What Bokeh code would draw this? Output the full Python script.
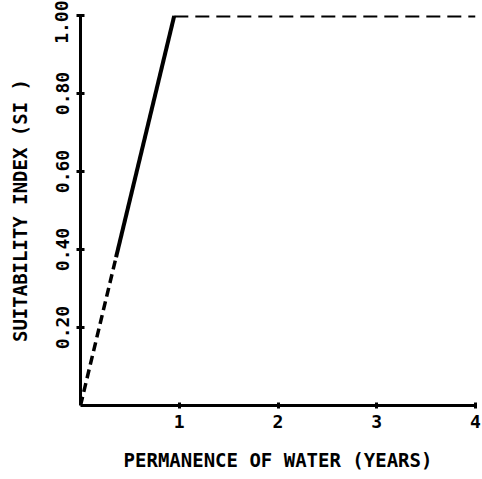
from bokeh.plotting import figure
from bokeh.models import FixedTicker, Range1d
from bokeh.embed import file_html
from bokeh.resources import INLINE

# data
rise_dashed_x = [0.0, 0.36]
rise_dashed_y = [0.0, 0.38]
rise_solid_x = [0.36, 0.95]
rise_solid_y = [0.38, 1.0]
plateau_x = [0.95, 4.0]
plateau_y = [1.0, 1.0]

x_ticks = [1, 2, 3, 4]
y_ticks = [0.2, 0.4, 0.6, 0.8, 1.0]
y_tick_labels = {0.2: "0.20", 0.4: "0.40", 0.6: "0.60", 0.8: "0.80", 1.0: "1.00"}

FONT = "DejaVu Sans Mono"

p = figure(width=482, height=479, output_backend="svg", toolbar_location=None,
           x_range=Range1d(0, 4), y_range=Range1d(0, 1.0),
           min_border_left=80, min_border_right=7, min_border_top=15, min_border_bottom=74)
p.frame_width = 395
p.frame_height = 390
p.outline_line_color = None
p.grid.visible = False
p.background_fill_color = "white"
p.border_fill_color = "white"

p.line(rise_dashed_x, rise_dashed_y, line_width=3.5, color="black", line_dash="9 5")
p.line(rise_solid_x, rise_solid_y, line_width=4, color="black")
p.line(plateau_x, plateau_y, line_width=4, color="black", line_dash="14 7")

xa = p.xaxis[0]
xa.ticker = FixedTicker(ticks=x_ticks)
xa.minor_tick_line_color = None
xa.axis_line_width = 3
xa.major_tick_line_width = 3
xa.major_tick_out = 3
xa.major_tick_in = 3
xa.major_label_standoff = 6
xa.major_label_text_font = FONT
xa.major_label_text_font_style = "bold"
xa.major_label_text_font_size = "18px"
xa.major_label_text_color = "black"
xa.axis_label = "PERMANENCE OF WATER (YEARS)"
xa.axis_label_text_font = FONT
xa.axis_label_text_font_style = "bold"
xa.axis_label_text_font_size = "19px"
xa.axis_label_text_color = "black"
xa.axis_label_standoff = 18

ya = p.yaxis[0]
ya.ticker = FixedTicker(ticks=y_ticks)
ya.major_label_overrides = y_tick_labels
ya.major_label_orientation = "vertical"
ya.minor_tick_line_color = None
ya.axis_line_width = 3
ya.major_tick_line_width = 3
ya.major_tick_out = 4
ya.major_tick_in = 4
ya.major_label_standoff = 8
ya.major_label_text_font = FONT
ya.major_label_text_font_style = "bold"
ya.major_label_text_font_size = "18px"
ya.major_label_text_color = "black"
ya.axis_label = "SUITABILITY INDEX (SI )"
ya.axis_label_text_font = FONT
ya.axis_label_text_font_style = "bold"
ya.axis_label_text_font_size = "19px"
ya.axis_label_text_color = "black"
ya.axis_label_standoff = 22

open("out.html", "w").write(file_html(p, INLINE))
